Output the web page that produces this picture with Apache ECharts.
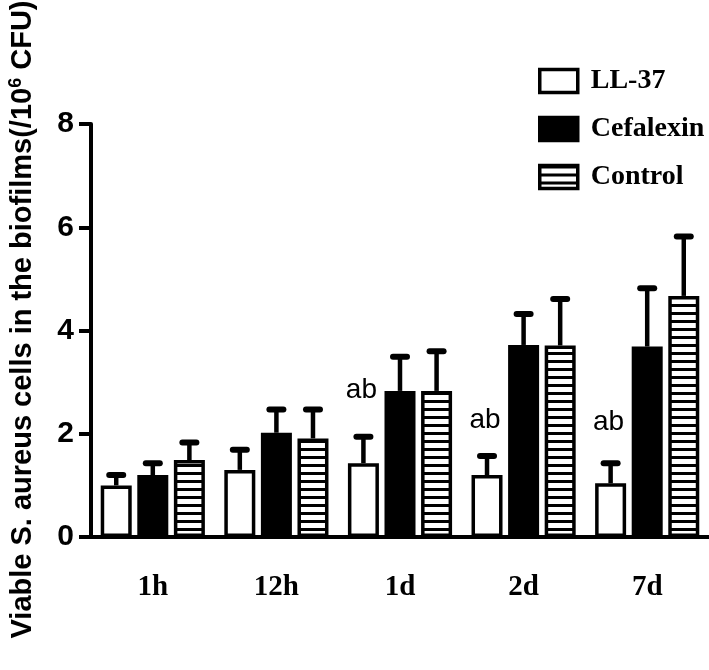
<!DOCTYPE html>
<html>
<head>
<meta charset="utf-8">
<script src="https://cdn.jsdelivr.net/npm/echarts@6/dist/echarts.min.js"></script>
<style>html,body{margin:0;padding:0;background:#fff}#c{width:709px;height:670px}</style>
</head>
<body>
<div id="c"></div>
<script>
const categories = ['1h', '12h', '1d', '2d', '7d'];
const seriesNames = ['LL-37', 'Cefalexin', 'Control'];
const ll37 = [1.00, 1.30, 1.43, 1.20, 1.04];
const ll37Err = [0.20, 0.39, 0.51, 0.37, 0.39];
const cefalexin = [1.20, 2.02, 2.83, 3.72, 3.69];
const cefalexinErr = [0.23, 0.45, 0.66, 0.60, 1.13];
const control = [1.49, 1.91, 2.83, 3.71, 4.67];
const controlErr = [0.34, 0.56, 0.77, 0.90, 1.15];
const abLabelY = [null, null, 2.85, 2.27, 2.23];
const yTicks = [0, 2, 4, 6, 8];

const BAR_W = 31, BAR_GAP = 0.18, BORDER = 3.5;
const spacing = BAR_W * (1 + BAR_GAP);

// striped pattern for Control
const pc = document.createElement('canvas');
pc.width = 4; pc.height = 8;
const pctx = pc.getContext('2d');
pctx.fillStyle = '#fff'; pctx.fillRect(0, 0, 4, 8);
pctx.fillStyle = '#000'; pctx.fillRect(0, 0, 4, 3);
const stripe = { image: pc, repeat: 'repeat' };

const fills = ['#fff', '#000', stripe];
const values = [ll37, cefalexin, control];
const errs = [ll37Err, cefalexinErr, controlErr];

const chart = echarts.init(document.getElementById('c'), null, { renderer: 'canvas' });

const barSeries = seriesNames.map((n, i) => ({
  name: n,
  type: 'bar',
  data: values[i],
  barWidth: BAR_W,
  barGap: (BAR_GAP * 100) + '%',
  itemStyle: { color: fills[i], borderColor: '#000', borderWidth: BORDER },
  z: 2
}));

const errSeries = seriesNames.map((n, i) => ({
  type: 'custom',
  data: values[i].map((v, k) => [k, v, v + errs[i][k]]),
  z: 1,
  renderItem: function (params, api) {
    const base = api.coord([api.value(0), api.value(1)]);
    const top = api.coord([api.value(0), api.value(2)]);
    const x = base[0] + (i - 1) * spacing;
    return {
      type: 'group',
      children: [
        { type: 'line', shape: { x1: x, y1: base[1], x2: x, y2: top[1] },
          style: { stroke: '#000', lineWidth: 4.5 } },
        { type: 'line', shape: { x1: x - 7, y1: top[1], x2: x + 7, y2: top[1] },
          style: { stroke: '#000', lineWidth: 6, lineCap: 'round' } }
      ]
    };
  }
}));

const abSeries = {
  type: 'custom',
  data: abLabelY.map((v, k) => [k, v]).filter(d => d[1] !== null),
  z: 3,
  renderItem: function (params, api) {
    const p = api.coord([api.value(0), api.value(1)]);
    return {
      type: 'text',
      style: { x: p[0] - spacing - 2, y: p[1], text: 'ab', fill: '#000',
        font: '28px "Liberation Sans", Arial, sans-serif', align: 'center', verticalAlign: 'middle' }
    };
  }
};

chart.setOption({
  animation: false,
  backgroundColor: '#fff',
  grid: { left: 91, right: 0, top: 124, bottom: 133, containLabel: false, outerBoundsMode: 'none' },
  legend: {
    orient: 'vertical', left: 533, top: 62,
    data: seriesNames,
    icon: 'rect', itemWidth: 38, itemHeight: 23, itemGap: 20,
    itemStyle: { borderColor: '#000', borderWidth: 3.5 },
    textStyle: { fontFamily: '"Liberation Serif", "Times New Roman", serif', fontWeight: 'bold',
      fontSize: 28, color: '#000', lineHeight: 24, padding: [0, 0, 0, 8] },
    selectedMode: false
  },
  xAxis: {
    type: 'category', data: categories,
    axisLine: { lineStyle: { color: '#000', width: 4 } },
    axisTick: { alignWithLabel: true, length: 12, lineStyle: { color: '#000', width: 4 } },
    axisLabel: { margin: 36, fontFamily: '"Liberation Serif", "Times New Roman", serif',
      fontWeight: 'bold', fontSize: 29, color: '#000' }
  },
  yAxis: {
    type: 'value', min: yTicks[0], max: yTicks[yTicks.length - 1], interval: yTicks[1] - yTicks[0],
    splitLine: { show: false },
    axisLine: { show: true, lineStyle: { color: '#000', width: 4 } },
    axisTick: { show: true, length: 12, lineStyle: { color: '#000', width: 4 } },
    axisLabel: { margin: 17, fontFamily: '"Liberation Sans", Arial, sans-serif', fontWeight: 'bold',
      fontSize: 30, color: '#000' },
    name: '{a|Viable S. aureus cells in the biofilms(/10}{s|6}{a| CFU)}',
    nameLocation: 'middle', nameRotate: 90, nameGap: 52,
    nameTextStyle: {
      padding: [0, 0, 0, 22],
      rich: {
        a: { fontFamily: '"Liberation Sans", Arial, sans-serif', fontWeight: 'bold', fontSize: 29, color: '#000', lineHeight: 32 },
        s: { fontFamily: '"Liberation Sans", Arial, sans-serif', fontWeight: 'bold', fontSize: 18, color: '#000', verticalAlign: 'top', lineHeight: 32 }
      }
    }
  },
  series: [...barSeries, ...errSeries, abSeries]
});
</script>
</body>
</html>
